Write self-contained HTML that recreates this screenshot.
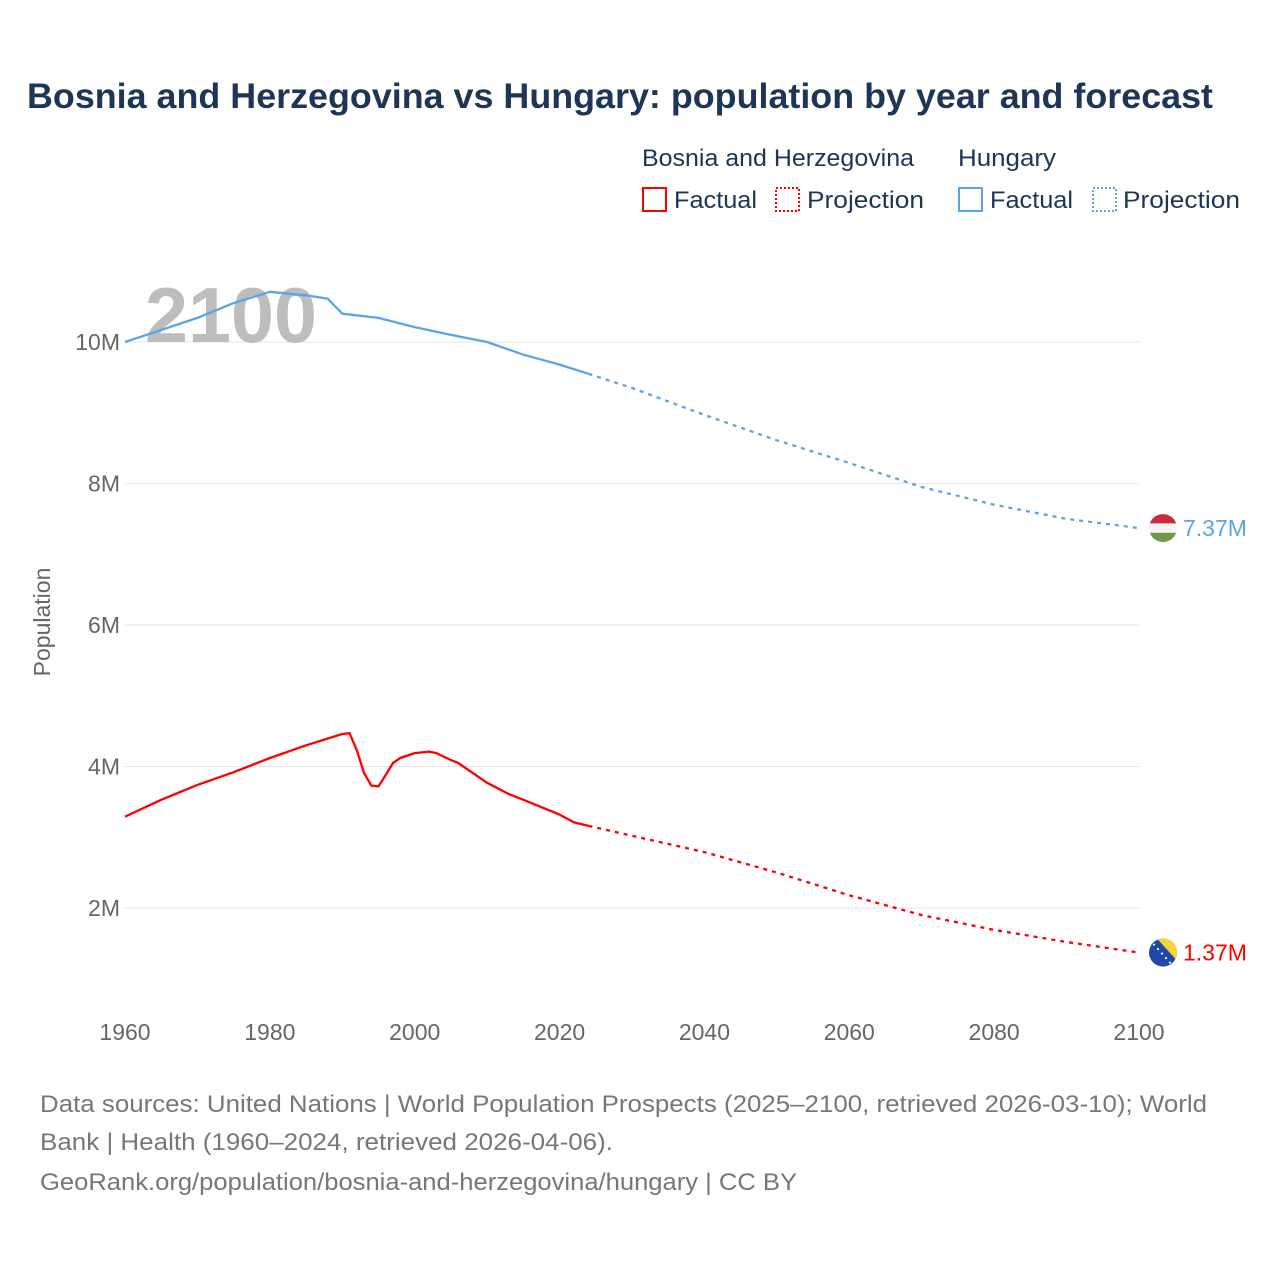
<!DOCTYPE html>
<html><head><meta charset="utf-8"><style>
body{margin:0;background:#fff;}
svg text{font-family:"Liberation Sans",sans-serif;}
</style></head><body>
<svg id="chart" width="1280" height="1280" viewBox="0 0 1280 1280" xmlns="http://www.w3.org/2000/svg">
<text x="27" y="108" font-size="35" font-weight="bold" fill="#1d3557" textLength="1186" lengthAdjust="spacingAndGlyphs">Bosnia and Herzegovina vs Hungary: population by year and forecast</text>
<g>
<text x="642" y="166" font-size="24" fill="#1d3557" textLength="272" lengthAdjust="spacingAndGlyphs">Bosnia and Herzegovina</text>
<text x="958" y="166" font-size="24" fill="#1d3557" textLength="98" lengthAdjust="spacingAndGlyphs">Hungary</text>
<rect x="643" y="188" width="23" height="23" fill="none" stroke="#ff0000" stroke-width="2"/>
<text x="674" y="208" font-size="24" fill="#1d3557" textLength="83" lengthAdjust="spacingAndGlyphs">Factual</text>
<rect x="776" y="188" width="23" height="23" fill="none" stroke="#ff0000" stroke-width="2" stroke-dasharray="2,2"/>
<text x="807" y="208" font-size="24" fill="#1d3557" textLength="117" lengthAdjust="spacingAndGlyphs">Projection</text>
<rect x="959" y="188" width="23" height="23" fill="none" stroke="#5ba4ea" stroke-width="2"/>
<text x="990" y="208" font-size="24" fill="#1d3557" textLength="83" lengthAdjust="spacingAndGlyphs">Factual</text>
<rect x="1093" y="188" width="23" height="23" fill="none" stroke="#5ba4ea" stroke-width="2" stroke-dasharray="2,2"/>
<text x="1123" y="208" font-size="24" fill="#1d3557" textLength="117" lengthAdjust="spacingAndGlyphs">Projection</text>
</g>
<g id="grid"></g>
<text x="145" y="342" font-size="78" font-weight="bold" fill="#bdbdbd" textLength="172" lengthAdjust="spacingAndGlyphs">2100</text>
<text transform="translate(50,622) rotate(-90)" text-anchor="middle" font-size="23" fill="#666">Population</text>
<g id="marks"></g>
<g font-size="24" fill="#777">
<text x="40" y="1112" textLength="1167" lengthAdjust="spacingAndGlyphs">Data sources: United Nations | World Population Prospects (2025–2100, retrieved 2026-03-10); World</text>
<text x="40" y="1150" textLength="573" lengthAdjust="spacingAndGlyphs">Bank | Health (1960–2024, retrieved 2026-04-06).</text>
<text x="40" y="1190" textLength="757" lengthAdjust="spacingAndGlyphs">GeoRank.org/population/bosnia-and-herzegovina/hungary | CC BY</text>
</g>
</svg>
<script>
const xTicks = [1960,1980,2000,2020,2040,2060,2080,2100];
const yTicks = [2,4,6,8,10];
const huFactYears = [1960,1965,1970,1975,1980,1985,1988,1990,1995,2000,2005,2010,2015,2020,2024];
const huFactVals = [10.0,10.17,10.34,10.55,10.71,10.66,10.61,10.40,10.34,10.21,10.10,10.0,9.82,9.68,9.55];
const huProjYears = [2024,2030,2040,2050,2060,2070,2080,2090,2100];
const huProjVals = [9.55,9.35,8.97,8.61,8.29,7.95,7.70,7.50,7.37];
const baFactYears = [1960,1965,1970,1975,1980,1985,1990,1991,1992,1993,1994,1995,1996,1997,1998,2000,2002,2003,2005,2006,2010,2013,2015,2020,2022,2024];
const baFactVals = [3.29,3.53,3.74,3.92,4.12,4.30,4.46,4.47,4.23,3.91,3.73,3.72,3.88,4.05,4.12,4.19,4.21,4.19,4.09,4.05,3.77,3.61,3.53,3.32,3.21,3.16];
const baProjYears = [2024,2030,2040,2050,2060,2070,2080,2090,2100];
const baProjVals = [3.16,3.02,2.79,2.50,2.18,1.90,1.69,1.52,1.37];
const endLabels = ["7.37M","1.37M"];

const NS="http://www.w3.org/2000/svg";
function X(yr){return 125+(yr-1960)*(1014/140);}
function Y(m){return 1049.5-m*70.75;}
function mk(tag,attrs,parent){const e=document.createElementNS(NS,tag);for(const k in attrs)e.setAttribute(k,attrs[k]);parent.appendChild(e);return e;}
const grid=document.getElementById('grid'), marks=document.getElementById('marks');
yTicks.forEach(v=>{
  const l=mk('line',{x1:125,x2:1139,y1:Y(v),y2:Y(v),stroke:'#e6e6e6','stroke-width':1},grid);
  
  
  const t=mk('text',{x:120,y:Y(v)+8,'text-anchor':'end','font-size':23,fill:'#666'},grid);
  t.textContent=v+'M';
  
  
});
xTicks.forEach(v=>{
  const t=mk('text',{x:X(v),y:1040,'text-anchor':'middle','font-size':23,fill:'#666'},grid);
  t.textContent=v;
  
  
});
function line(ys,vs,color,dash,name){
  const d=ys.map((y,i)=>(i?'L':'M')+X(y).toFixed(1)+','+Y(vs[i]).toFixed(1)).join(' ');
  const p=mk('path',{d:d,fill:'none',stroke:color,'stroke-width':2.3,'stroke-linejoin':'round'},marks);
  if(dash)p.setAttribute('stroke-dasharray',dash);
  
  
}
line(huFactYears,huFactVals,'#5ba4ea',null,'hungary-factual-line');
line(huProjYears,huProjVals,'#5ba4ea','4,5','hungary-projection-line');
line(baFactYears,baFactVals,'#ff0000',null,'bosnia-factual-line');
line(baProjYears,baProjVals,'#ff0000','4,5','bosnia-projection-line');
const hy=Y(huProjVals[huProjVals.length-1]), by=Y(baProjVals[baProjVals.length-1]), fx=1163;
const defs=mk('defs',{},marks);
const c1=mk('clipPath',{id:'hc'},defs);mk('circle',{cx:fx,cy:hy,r:14},c1);
const c2=mk('clipPath',{id:'bc'},defs);mk('circle',{cx:fx,cy:by,r:14},c2);
const hf=mk('g',{'clip-path':'url(#hc)'},marks);


mk('rect',{x:fx-14,y:hy-14,width:28,height:10,fill:'#ce2939'},hf);
mk('rect',{x:fx-14,y:hy-4.7,width:28,height:9.4,fill:'#f4f4f4'},hf);
mk('rect',{x:fx-14,y:hy+4.7,width:28,height:10,fill:'#6e9a4a'},hf);
const bf=mk('g',{'clip-path':'url(#bc)'},marks);


mk('rect',{x:fx-14,y:by-14,width:28,height:28,fill:'#1f48a8'},bf);
mk('polygon',{points:(fx-6)+','+(by-14)+' '+(fx+14)+','+(by-14)+' '+(fx+14)+','+(by+8),fill:'#f7d335'},bf);
for(let i=0;i<5;i++)mk('circle',{cx:fx-9+i*4,cy:by-8+i*4.5,r:1.1,fill:'#fff'},bf);
const t1=mk('text',{x:1183,y:hy+8,'font-size':23,fill:'#5ba4ea'},marks);
t1.textContent=endLabels[0];


const t2=mk('text',{x:1183,y:by+8,'font-size':23,fill:'#ff0000'},marks);
t2.textContent=endLabels[1];


</script>
</body></html>
